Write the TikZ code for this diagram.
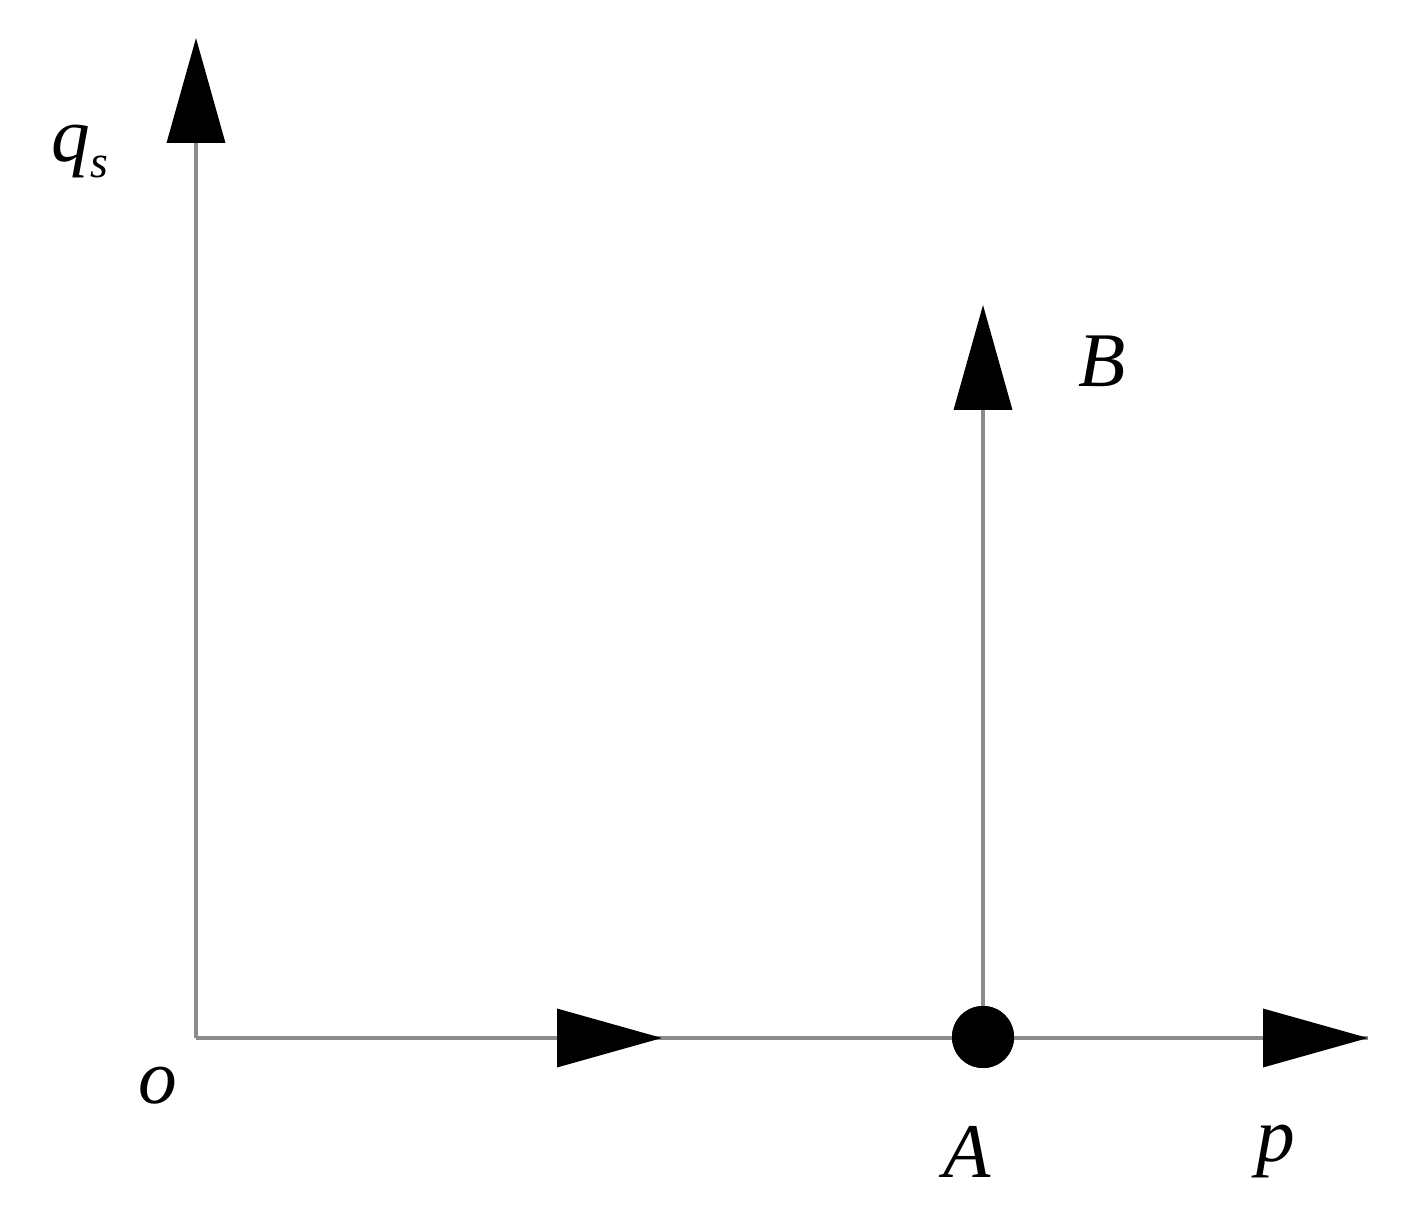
\documentclass[tikz,border=0pt]{standalone}
\usepackage{fontspec}
\setmainfont{Liberation Serif}
\usetikzlibrary{arrows.meta}
\definecolor{axisgray}{RGB}{140,140,140}
\begin{document}
\begin{tikzpicture}[x=1cm,y=1cm,
  axis/.style={draw=axisgray,line width=1pt},
  tri/.style={-{Triangle[length=1.05cm,width=0.58cm,fill=black,color=black]}},
  lbl/.style={inner sep=0pt,anchor=base,font=\fontsize{22pt}{26pt}\selectfont\itshape},
  dot/.style={circle,fill=black,minimum size=0.62cm,inner sep=0pt}]
\useasboundingbox (0,0) rectangle (14.06,12.06);
% origin and key points (px/100, (1206-py)/100)
\coordinate (O) at (1.96,1.68);
\coordinate (Qtip) at (1.96,11.68);
\coordinate (Ptip) at (13.68,1.68);
\coordinate (Mid) at (6.62,1.68);
\coordinate (Btip) at (9.83,9.01);
\node[dot] (A) at (9.83,1.69) {};
% axes
\draw[axis] (O) -- (Ptip);
\draw[axis,tri] (O) -- (Qtip);
\draw[axis,tri] (O) -- (Ptip);
\draw[axis,tri] (O) -- (Mid);
\draw[axis,tri] (A.center) -- (Btip);
\node[dot] at (A) {};
% labels
\node[lbl] (qs) at (0.80,10.44) {q\raisebox{-4.3pt}{\fontsize{13pt}{15pt}\selectfont s}};
\node[lbl] (Bl) at (11.02,8.19) {B};
\node[lbl] (ol) at (1.58,1.03) {o};
\node[lbl] (Al) at (9.67,0.29) {A};
\node[lbl] (pl) at (12.76,0.45) {p};
\end{tikzpicture}
\end{document}
